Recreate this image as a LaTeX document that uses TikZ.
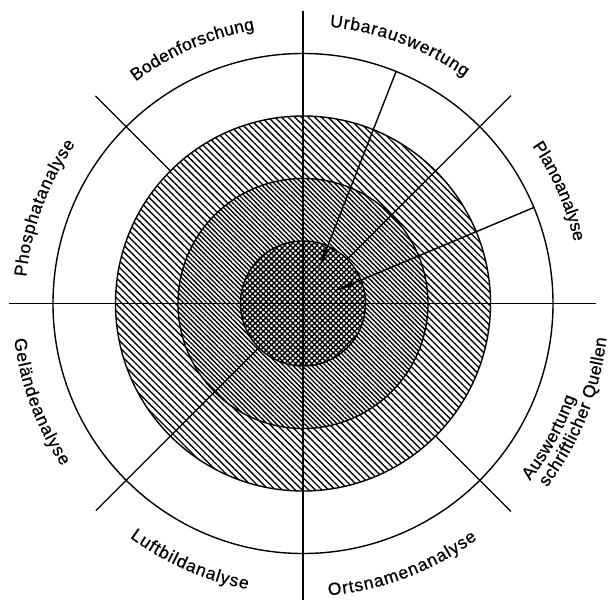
\documentclass[tikz,border=0pt]{standalone}
\usepackage{fontspec}
\setmainfont{Liberation Sans}
\newfontfamily\labfamily{Liberation Sans}[FakeBold=0.6]
\usetikzlibrary{decorations.text,patterns.meta,arrows.meta}
\newcommand\labfont{\labfamily\fontsize{17.5}{19}\selectfont}
\begin{document}
\begin{tikzpicture}[x=1pt,y=1pt,
  ringline/.style={line width=1.4pt},
  ray/.style={line width=1.4pt},
  pointer/.style={line width=1.4pt,-{Latex[length=21pt,width=5.5pt]}},
  lab/.style={decorate,decoration={text along path,text align={fit to path},text={|\labfont|#1}}},
  outerhatch/.style={pattern={Lines[angle=-45,distance=4.7pt,line width=1.35pt]}},
  midhatch/.style={pattern={Lines[angle=-45,distance=3.3pt,line width=1.35pt]}},
  innerhatch/.style={pattern={Hatch[angle=45,distance=3.8pt,line width=1.4pt]}}
]
\useasboundingbox (-303,-296.5) rectangle (306,303.5);
\coordinate (O) at (0,0);
% hatched rings
\path[outerhatch,even odd rule] (O) circle[radius=187.5] (O) circle[radius=125];
\path[midhatch,even odd rule] (O) circle[radius=125] (O) circle[radius=62.5];
\path[innerhatch] (O) circle[radius=62.5];
% circles
\draw[ringline] (O) circle[radius=62.5];
\draw[ringline] (O) circle[radius=125];
\draw[ringline] (O) circle[radius=187.5];
\draw[ringline] (O) circle[radius=250];
% radial lines
\coordinate (hl) at (180:293.7);
\coordinate (hr) at (0:293);
\coordinate (vt) at (0,292);
\coordinate (vb) at (0,-296.5);
\draw[ray] (hl) -- (hr);
\draw[ray] (vt) -- (vb);
\coordinate (nwa) at (135:187.5);
\coordinate (nwb) at (135:293.5);
\draw[ray] (nwa) -- (nwb);
\coordinate (sea) at (-45:187.5);
\coordinate (seb) at (-45:294);
\draw[ray] (sea) -- (seb);
\coordinate (nea) at (45:62.5);
\coordinate (neb) at (45:294);
\draw[ray] (neb) -- (nea);
\coordinate (swa) at (225:62.5);
\coordinate (swb) at (225:293);
\draw[ray] (swb) -- (swa);
% arrows
\coordinate (ua) at (93,231.8);
\coordinate (ub) at (15.3,33.5);
\draw[pointer] (ua) -- (ub);
\coordinate (pa) at (231.3,96.2);
\coordinate (pb) at (30.3,11.8);
\draw[pointer] (pa) -- (pb);
% labels, upper half (clockwise, tops outward)
\path[lab=Bodenforschung] (127:278) arc[start angle=127,end angle=100,radius=278];
\path[lab=Urbarauswertung] (84.5:278) arc[start angle=84.5,end angle=54.5,radius=278];
\path[lab=Planoanalyse] (34.5:278) arc[start angle=34.5,end angle=13,radius=278];
\path[lab=Phosphatanalyse] (174.5:278) arc[start angle=174.5,end angle=145,radius=278];
% labels, lower half (counterclockwise, tops inward)
\path[lab=Geländeanalyse] (187:291) arc[start angle=187,end angle=214,radius=291];
\path[lab=Luftbildanalyse] (233.5:291) arc[start angle=233.5,end angle=259,radius=291];
\path[lab=Ortsnamenanalyse] (275:293) arc[start angle=275,end angle=306.5,radius=293];
\path[lab=Auswertung] (322:288) arc[start angle=322,end angle=341,radius=288];
\path[lab={schriftlicher Quellen}] (323:305.5) arc[start angle=323,end angle=353.5,radius=305.5];
\end{tikzpicture}
\end{document}
